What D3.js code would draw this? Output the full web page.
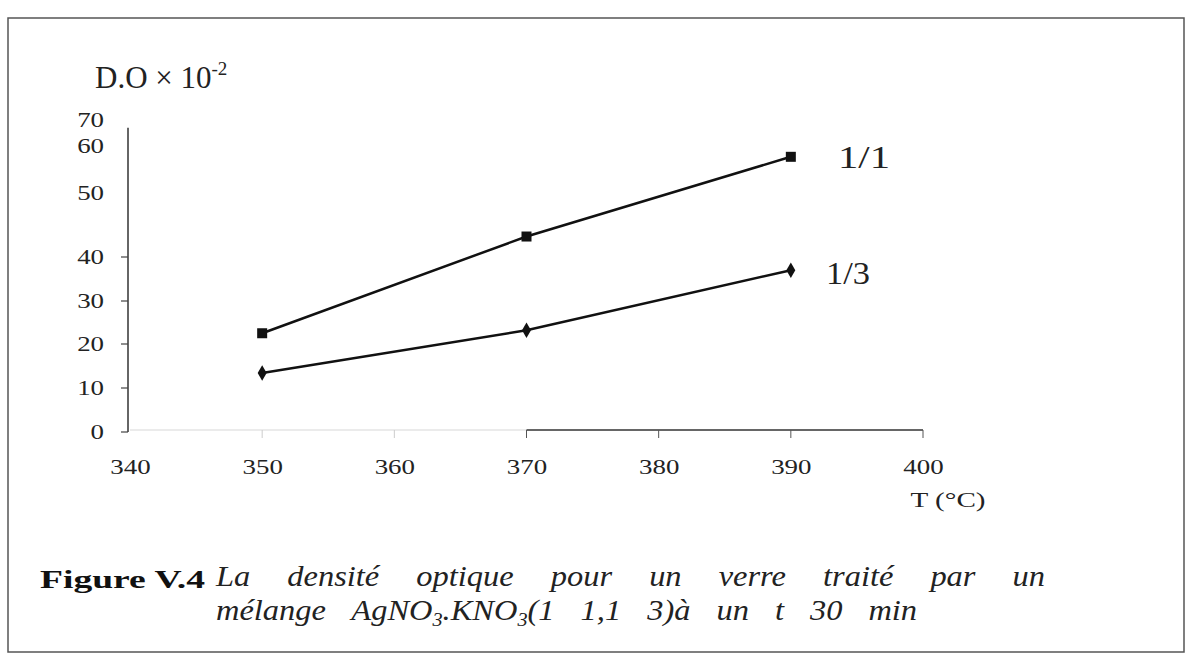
<!DOCTYPE html>
<html>
<head>
<meta charset="utf-8">
<script src="https://cdn.jsdelivr.net/npm/d3@7"></script>
<style>
  body { margin: 0; background: #fff; }
  svg { font-family: "Liberation Serif", "DejaVu Serif", serif; }
</style>
</head>
<body>
<svg id="chart" width="1192" height="658"></svg>
<script>
// temperatures (°C)
const temps = [350, 370, 390];
// optical density x 10^-2
const series11 = [22.5, 43.2, 57.7];
const series13 = [13.4, 23.2, 37.0];
const xTicks = [340, 350, 360, 370, 380, 390, 400];
const yTicks = [0, 10, 20, 30, 40, 50, 60, 70];
const yMarked = [0, 10, 20, 30, 40];

const svg = d3.select("#chart");
const serif = "'Liberation Serif', serif";
// the scanned page is stretched sideways a little
const STRETCH = 1.28;
const CAP_STRETCH = 1.12;

function stretch(sel, k) {
    sel.each(function() {
        const w = this.getComputedTextLength();
        d3.select(this)
            .attr("textLength", w * k)
            .attr("lengthAdjust", "spacingAndGlyphs");
    });
}

// frame round the figure
svg.append("rect")
    .attr("x", 8).attr("y", 18)
    .attr("width", 1176).attr("height", 634)
    .style("fill", "none")
    .style("stroke", "#555")
    .style("stroke-width", 1.5);

const x = d3.scaleLinear().domain([340, 400]).range([130, 923]);
// the printed axis is not evenly spaced above 40
const y = d3.scaleLinear()
    .domain(yTicks)
    .range([432, 388, 344, 301, 257, 193, 146, 120]);

// y axis
const yAxis = svg.append("g")
    .attr("transform", `translate(${x(340) - 2},0)`)
    .call(d3.axisLeft(y).tickValues(yTicks).tickSize(0).tickPadding(24));
yAxis.select(".domain").remove();
yAxis.selectAll("text")
    .style("font-family", serif)
    .style("font-size", "21px")
    .style("fill", "#222")
    .call(stretch, STRETCH);

svg.append("line")
    .attr("x1", x(340) - 2).attr("x2", x(340) - 2)
    .attr("y1", y(67)).attr("y2", y(0))
    .style("stroke", "#333").style("stroke-width", 1.5);
svg.selectAll(".ytick")
    .data(yMarked)
    .enter().append("line")
    .attr("class", "ytick")
    .attr("x1", x(340) - 9).attr("x2", x(340) - 2)
    .attr("y1", d => y(d)).attr("y2", d => y(d))
    .style("stroke", "#444").style("stroke-width", 1.2);

// x axis: only the right part prints dark
svg.append("line")
    .attr("x1", x(340)).attr("x2", x(370))
    .attr("y1", y(0) - 2).attr("y2", y(0) - 2)
    .style("stroke", "#e4e4e4").style("stroke-width", 1.5);
svg.append("line")
    .attr("x1", x(370)).attr("x2", x(400))
    .attr("y1", y(0) - 2).attr("y2", y(0) - 2)
    .style("stroke", "#333").style("stroke-width", 1.5);

const xAxis = svg.append("g")
    .attr("transform", `translate(0,${y(0) - 2})`)
    .call(d3.axisBottom(x).tickValues(xTicks).tickSize(0).tickPadding(29));
xAxis.select(".domain").remove();
xAxis.selectAll("text")
    .style("font-family", serif)
    .style("font-size", "21px")
    .style("fill", "#222")
    .call(stretch, STRETCH);
svg.selectAll(".xtick")
    .data(xTicks.filter(d => d >= 350))
    .enter().append("line")
    .attr("class", "xtick")
    .attr("x1", d => x(d)).attr("x2", d => x(d))
    .attr("y1", y(0) - 2).attr("y2", y(0) + 6)
    .style("stroke", d => d >= 370 ? "#555" : "#ccc")
    .style("stroke-width", 1);

// axis titles
const yTitle = svg.append("text")
    .attr("x", 95).attr("y", 88)
    .style("font-size", "31px")
    .style("fill", "#222");
yTitle.append("tspan").text("D.O × 10");
yTitle.append("tspan").attr("dy", -13).style("font-size", "19px").text("-2");

svg.append("text")
    .attr("x", 948).attr("y", 507)
    .attr("text-anchor", "middle")
    .attr("textLength", 75)
    .attr("lengthAdjust", "spacingAndGlyphs")
    .style("font-size", "21px")
    .style("fill", "#222")
    .text("T (°C)");

// lines and markers
const line = d3.line()
    .x((d, i) => x(temps[i]))
    .y(d => y(d));

[series11, series13].forEach(s => {
    svg.append("path")
        .datum(s)
        .attr("d", line)
        .style("fill", "none")
        .style("stroke", "#111")
        .style("stroke-width", 2.5);
});

svg.selectAll(".sq")
    .data(series11)
    .enter().append("rect")
    .attr("class", "sq")
    .attr("x", (d, i) => x(temps[i]) - 5)
    .attr("y", d => y(d) - 5)
    .attr("width", 10).attr("height", 10)
    .style("fill", "#111");

svg.selectAll(".dm")
    .data(series13)
    .enter().append("path")
    .attr("class", "dm")
    .attr("transform", (d, i) => `translate(${x(temps[i])},${y(d)})`)
    .attr("d", d3.symbol(d3.symbolDiamond, 70))
    .style("fill", "#111");

// series labels
svg.append("text")
    .attr("x", 838).attr("y", 168)
    .attr("textLength", 52)
    .attr("lengthAdjust", "spacingAndGlyphs")
    .style("font-size", "32px")
    .style("fill", "#222")
    .text("1/1");
svg.append("text")
    .attr("x", 826).attr("y", 284)
    .attr("textLength", 44)
    .attr("lengthAdjust", "spacingAndGlyphs")
    .style("font-size", "32px")
    .style("fill", "#222")
    .text("1/3");

// caption
svg.append("text")
    .attr("x", 40).attr("y", 588)
    .attr("textLength", 165)
    .attr("lengthAdjust", "spacingAndGlyphs")
    .style("font-size", "26px")
    .style("font-weight", "bold")
    .style("fill", "#111")
    .text("Figure V.4");

// spread the words of a caption line so it ends where the printed one does
function justify(sel, width) {
    const natural = sel.node().getComputedTextLength();
    const gaps = (sel.text().match(/ /g) || []).length;
    sel.style("word-spacing", `${(width - natural) / gaps}px`);
}

const caption = svg.append("g")
    .attr("transform", `translate(216,0) scale(${CAP_STRETCH},1)`);

const cap1 = caption.append("text")
    .attr("x", 0).attr("y", 586)
    .style("font-size", "29px")
    .style("font-style", "italic")
    .style("fill", "#222")
    .text("La densité optique pour un verre traité par un");
justify(cap1, 829 / CAP_STRETCH);

const cap2 = caption.append("text")
    .attr("x", 0).attr("y", 620)
    .style("font-size", "29px")
    .style("font-style", "italic")
    .style("fill", "#222");
cap2.append("tspan").text("mélange AgNO");
cap2.append("tspan").attr("dy", 6).style("font-size", "18px").text("3");
cap2.append("tspan").attr("dy", -6).text(".KNO");
cap2.append("tspan").attr("dy", 6).style("font-size", "18px").text("3");
cap2.append("tspan").attr("dy", -6).text("(1 1,1 3)à un t  30 min");
justify(cap2, 719 / CAP_STRETCH);
</script>
</body>
</html>
